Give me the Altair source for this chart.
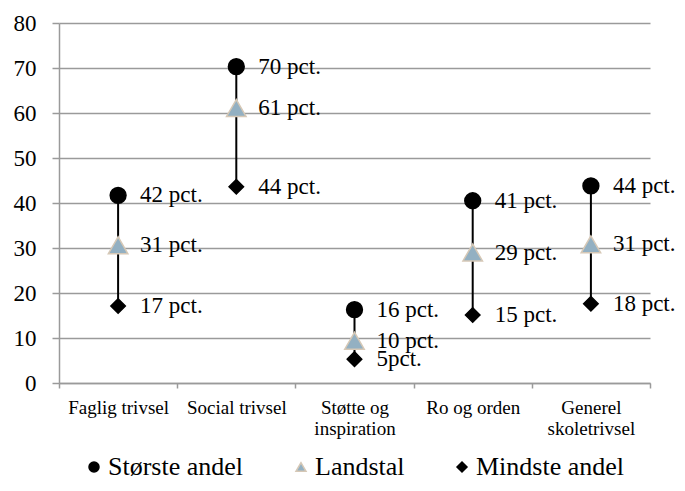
import altair as alt
import pandas as pd

categories = ["Faglig trivsel", "Social trivsel", "Støtte og inspiration", "Ro og orden", "Generel skoletrivsel"]
series = ["Største andel", "Landstal", "Mindste andel"]

stoerste = [41.7, 70.3, 16.3, 40.5, 43.8]
landstal = [30.6, 61.1, 9.4, 29.0, 30.8]
mindste = [17.1, 43.6, 5.3, 15.1, 17.6]

stoerste_labels = ["42 pct.", "70 pct.", "16 pct.", "41 pct.", "44 pct."]
landstal_labels = ["31 pct.", "61 pct.", "10 pct.", "29 pct.", "31 pct."]
mindste_labels = ["17 pct.", "44 pct.", "5pct.", "15 pct.", "18 pct."]

y_ticks = [0, 10, 20, 30, 40, 50, 60, 70, 80]

rows = []
for s, vals, labs in zip(series, [stoerste, landstal, mindste],
                         [stoerste_labels, landstal_labels, mindste_labels]):
    for c, v, l in zip(categories, vals, labs):
        rows.append({"kategori": c, "serie": s, "vaerdi": v, "etiket": l})
df = pd.DataFrame(rows)
range_df = pd.DataFrame({"kategori": categories, "lav": mindste, "hoej": stoerste})

FONT = "Liberation Serif, Times New Roman, serif"
GRID = "#9a9a9a"

x_axis = alt.Axis(
    title=None, labelAngle=0, tickBand="extent", labelFont=FONT, labelFontSize=19,
    labelColor="black", labelPadding=10, tickSize=5, tickColor=GRID, tickWidth=1.5,
    domainColor=GRID, domainWidth=1.5, grid=False, labelLineHeight=21,
    labelExpr="length(datum.label) > 15 ? [substring(datum.label, 0, lastindexof(datum.label, ' ')), substring(datum.label, lastindexof(datum.label, ' ') + 1)] : datum.label",
)
y_axis = alt.Axis(
    title=None, values=y_ticks, labelFont=FONT, labelFontSize=23, labelColor="black",
    labelPadding=16, tickSize=7, tickColor=GRID, tickWidth=1.5, domainColor=GRID,
    domainWidth=1.5, grid=True, gridColor=GRID, gridWidth=1.5,
)
x_enc = alt.X("kategori:N", sort=categories,
              scale=alt.Scale(paddingInner=0, paddingOuter=0), axis=x_axis)
y_scale = alt.Scale(domain=[0, 80], nice=False)

legend = alt.Legend(title=None, orient="none", legendX=22, legendY=431, direction="horizontal",
                    labelFont=FONT, labelFontSize=26, labelColor="black",
                    symbolSize=100, columnPadding=44, labelOffset=1, padding=0)

shape_enc = alt.Shape("serie:N", scale=alt.Scale(domain=series, range=["circle", "triangle-up", "diamond"]),
                      legend=legend)
color_enc = alt.Color("serie:N", scale=alt.Scale(domain=series, range=["black", "#93b0c2", "black"]),
                      legend=legend)
stroke_enc = alt.Stroke("serie:N", scale=alt.Scale(domain=series, range=["black", "#d6c8b6", "black"]),
                        legend=legend)

rules = alt.Chart(range_df).mark_rule(color="black", strokeWidth=2).encode(
    x=x_enc,
    y=alt.Y("lav:Q", scale=y_scale, axis=y_axis),
    y2="hoej:Q",
)

marker_sizes = {"Største andel": 250, "Landstal": 380, "Mindste andel": 210}
point_layers = []
for s in series:
    point_layers.append(
        alt.Chart(df).transform_filter(alt.datum.serie == s)
        .mark_point(filled=True, opacity=1, strokeWidth=1.5, size=marker_sizes[s])
        .encode(
            x=x_enc,
            y=alt.Y("vaerdi:Q", scale=y_scale, axis=y_axis),
            shape=shape_enc, color=color_enc, stroke=stroke_enc,
        )
    )

labels = alt.Chart(df).mark_text(align="left", baseline="middle", dx=22, font=FONT,
                                 fontSize=23, color="black").encode(
    x=x_enc,
    y=alt.Y("vaerdi:Q", scale=y_scale, axis=y_axis),
    text="etiket:N",
)

chart = alt.layer(rules, *point_layers, labels).properties(
    width=591, height=360,
    autosize=alt.AutoSizeParams(type="none"),
    padding={"left": 51, "top": 15, "right": 27, "bottom": 100},
).configure_view(stroke=None)

chart.save("out.html", embed_options={"renderer": "svg", "actions": False})
